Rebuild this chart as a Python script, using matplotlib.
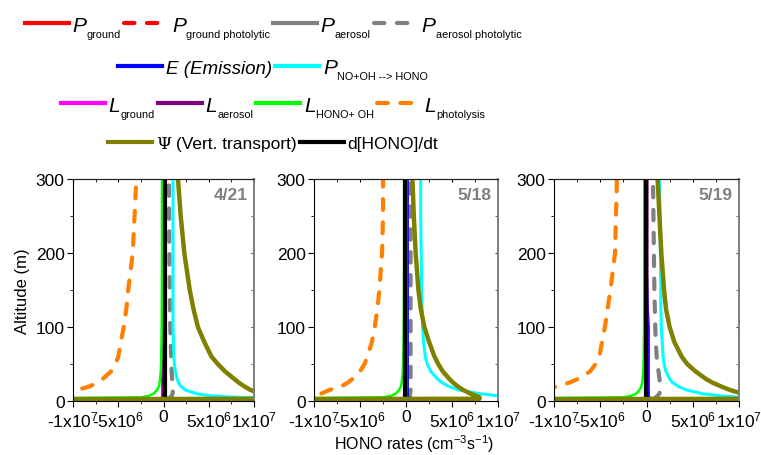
import numpy as np
import matplotlib.pyplot as plt
from matplotlib import font_manager
from matplotlib.lines import Line2D

plt.rcParams['font.family'] = 'Liberation Sans'
plt.rcParams['mathtext.fontset'] = 'custom'
plt.rcParams['mathtext.rm'] = 'Liberation Sans'
plt.rcParams['mathtext.it'] = 'Liberation Sans:italic'
plt.rcParams['axes.unicode_minus'] = False

# altitude levels (m) and HONO rates in units of 1e6 cm-3 s-1
nan = np.nan
alt = [2, 3, 5, 7, 10, 15, 20, 25, 30, 40, 50, 60, 80, 100, 125, 150, 200, 250, 300]

# 4/21
psi_421 = [-40, 15, 13, 11.8, 10.6, 9.6, 8.9, 8.3, 7.8, 6.8, 6.0, 5.3, 4.5, 3.8, 3.3, 2.9, 2.3, 1.9, 1.6]
pno_421 = [30, 20, 8, 5.2, 3.6, 2.4, 1.9, 1.65, 1.5, 1.3, 1.2, 1.15, 1.1, 1.05, 1.05, 1.05, 1.05, 1.05, 1.05]
paerph_421 = [0.4, 0.5, 0.8, 0.9, 1.0, 1.05, 1.0, 0.98, 0.95, 0.9, 0.87, 0.85, 0.8, 0.75, 0.72, 0.7, 0.65, 0.62, 0.6]
loh_421 = [-40, -20, -2.5, -1.6, -1.1, -0.7, -0.5, -0.43, -0.38, -0.3, -0.27, -0.25, -0.22, -0.2, -0.19, -0.18, -0.17, -0.17, -0.17]
lphot_421 = [nan, nan, nan, nan, -11.5, -9.5, -8.1, -7.3, -6.7, -5.8, -5.3, -5.0, -4.7, -4.4, -4.1, -3.9, -3.4, -3.2, -3.0]
e_421 = [2.5, 1.0, 0.15, 0.15, 0.15, 0.15, 0.15, 0.15, 0.15, 0.15, 0.15, 0.15, 0.1, 0.1, 0.1, 0.1, 0.1, 0.1, 0.1]
dhono_421 = [0.15, 0.15, 0.15, 0.15, 0.15, 0.15, 0.15, 0.15, 0.15, 0.15, 0.15, 0.15, 0.15, 0.15, 0.15, 0.15, 0.15, 0.15, 0.15]

# 5/18
psi_518 = [-40, 8.0, 8.0, 7.6, 7.0, 6.2, 5.6, 5.1, 4.7, 4.0, 3.5, 3.1, 2.5, 2.0, 1.6, 1.35, 1.05, 0.85, 0.7]
pno_518 = [30, 20, 12, 10, 8.0, 5.7, 4.6, 3.9, 3.4, 2.7, 2.3, 2.1, 1.9, 1.8, 1.75, 1.7, 1.65, 1.6, 1.6]
paerph_518 = [0.2, 0.25, 0.3, 0.4, 0.45, 0.5, 0.5, 0.5, 0.5, 0.5, 0.5, 0.5, 0.5, 0.5, 0.5, 0.5, 0.5, 0.5, 0.5]
loh_518 = [-40, -20, -2.5, -1.6, -1.1, -0.75, -0.55, -0.47, -0.42, -0.35, -0.32, -0.3, -0.27, -0.25, -0.23, -0.22, -0.2, -0.2, -0.2]
lphot_518 = [nan, nan, nan, nan, -9.2, -8.3, -7.0, -6.3, -5.8, -5.0, -4.5, -4.2, -3.7, -3.4, -3.1, -2.9, -2.6, -2.5, -2.5]
e_518 = [3.3, 1.2, 0.2, 0.2, 0.2, 0.2, 0.2, 0.2, 0.2, 0.2, 0.2, 0.2, 0.2, 0.2, 0.2, 0.2, 0.2, 0.2, 0.2]
dhono_518 = [-0.1, -0.1, -0.1, -0.1, -0.1, -0.1, -0.1, -0.1, -0.1, -0.1, -0.1, -0.1, -0.1, -0.1, -0.1, -0.1, -0.1, -0.1, -0.1]

# 5/19
psi_519 = [-40, 15, 13, 11.8, 10.3, 9.0, 8.0, 7.1, 6.4, 5.3, 4.4, 3.8, 3.0, 2.5, 2.1, 1.9, 1.6, 1.4, 1.2]
pno_519 = [30, 20, 10, 8, 6.0, 4.3, 3.4, 2.8, 2.5, 2.1, 1.9, 1.8, 1.7, 1.6, 1.55, 1.55, 1.5, 1.45, 1.4]
paerph_519 = [0.6, 0.8, 1.0, 1.2, 1.4, 1.5, 1.5, 1.45, 1.4, 1.3, 1.2, 1.1, 1.0, 0.95, 0.9, 0.85, 0.8, 0.75, 0.7]
loh_519 = [-40, -20, -2.5, -1.6, -1.1, -0.75, -0.55, -0.47, -0.42, -0.35, -0.32, -0.3, -0.28, -0.26, -0.25, -0.25, -0.25, -0.25, -0.25]
lphot_519 = [nan, nan, nan, nan, nan, -11, -9.6, -8.3, -7.4, -6.1, -5.5, -5.1, -4.8, -4.5, -4.2, -3.9, -3.4, -3.3, -3.2]
e_519 = [2.5, 1.0, 0.25, 0.25, 0.25, 0.25, 0.25, 0.25, 0.25, 0.25, 0.25, 0.25, 0.25, 0.25, 0.15, 0.1, 0.0, 0.0, 0.0]
dhono_519 = [-0.1, -0.1, -0.1, -0.1, -0.1, -0.1, -0.1, -0.1, -0.1, -0.1, -0.1, -0.1, -0.1, -0.1, -0.1, -0.1, -0.1, -0.1, -0.1]

# small terms, hidden near zero on every day
pground = [0.4, 0.2, 0.05, 0.03, 0.02, 0.01, 0, 0, 0, 0, 0, 0, 0, 0, 0, 0, 0, 0, 0]
pgroundph = [0.3, 0.15, 0.04, 0.03, 0.02, 0.01, 0, 0, 0, 0, 0, 0, 0, 0, 0, 0, 0, 0, 0]
paer = [0.1, 0.09, 0.08, 0.07, 0.06, 0.05, 0.05, 0.05, 0.05, 0.05, 0.05, 0.05, 0.05, 0.05, 0.05, 0.05, 0.05, 0.05, 0.05]
lground = [-0.4, -0.2, -0.05, -0.03, -0.02, -0.01, 0, 0, 0, 0, 0, 0, 0, 0, 0, 0, 0, 0, 0]
laer = [-0.1, -0.09, -0.08, -0.07, -0.06, -0.05, -0.05, -0.05, -0.05, -0.05, -0.05, -0.05, -0.05, -0.05, -0.05, -0.05, -0.05, -0.05, -0.05]

dates = ['4/21', '5/18', '5/19']
xticks = [-1e7, -5e6, 0, 5e6, 1e7]
xlabels = ['-1x10$^{7}$', '-5x10$^{6}$', '0', '5x10$^{6}$', '1x10$^{7}$']

styles = {
    'pground': dict(color='#ff0000', lw=2.5),
    'pgroundph': dict(color='#ff0000', lw=2.5, ls=(0, (2.5, 3))),
    'paer': dict(color='#808080', lw=2.5),
    'paerph': dict(color='#808080', lw=3, ls=(0, (2.5, 3))),
    'e': dict(color='#0000ff', lw=1.5),
    'pno': dict(color='#00ffff', lw=2.2),
    'lground': dict(color='#ff00ff', lw=2.5),
    'laer': dict(color='#800080', lw=2.5),
    'loh': dict(color='#00ff00', lw=1.8),
    'lphot': dict(color='#ff8000', lw=3, ls=(0, (2.6, 3))),
    'dhono': dict(color='#000000', lw=3),
    'psi': dict(color='#808000', lw=3.2),
}

data = {
    '4/21': dict(psi=psi_421, pno=pno_421, paerph=paerph_421, loh=loh_421, lphot=lphot_421, e=e_421, dhono=dhono_421),
    '5/18': dict(psi=psi_518, pno=pno_518, paerph=paerph_518, loh=loh_518, lphot=lphot_518, e=e_518, dhono=dhono_518),
    '5/19': dict(psi=psi_519, pno=pno_519, paerph=paerph_519, loh=loh_519, lphot=lphot_519, e=e_519, dhono=dhono_519),
}
order = ['pground', 'pgroundph', 'paer', 'paerph', 'e', 'pno', 'lground', 'laer', 'loh', 'lphot', 'dhono', 'psi']

W, H = 761, 456
fig = plt.figure(figsize=(W / 100, H / 100), dpi=100)

panels = [(73, 181), (314, 184), (554, 185)]
for i, (d, (left, width)) in enumerate(zip(dates, panels)):
    ax = fig.add_axes([left / W, 1 - 402 / H, width / W, 222 / H])
    series = dict(data[d], pground=pground, pgroundph=pgroundph, paer=paer, lground=lground, laer=laer)
    for k in order:
        ax.plot(np.array(series[k]) * 1e6, alt, dash_capstyle='round', solid_capstyle='butt', **styles[k])
    ax.set_xlim(-1e7, 1e7)
    ax.set_ylim(0, 300)
    ax.set_xticks(xticks)
    ax.set_xticklabels(xlabels)
    ax.set_xticks([-7.5e6, -2.5e6, 2.5e6, 7.5e6], minor=True)
    ax.set_yticks([0, 100, 200, 300])
    ax.set_yticks([50, 150, 250], minor=True)
    ax.tick_params(which='major', direction='out', length=4, labelsize=12.5, pad=2)
    ax.tick_params(which='minor', direction='out', length=2.5)
    ax.spines['right'].set_color('#808080')
    ax.spines['right'].set_linewidth(1.3)
    ax.spines['top'].set_color('#222222')
    sx = ax.secondary_xaxis('top')
    sx.set_xticks(xticks)
    sx.set_xticks([-7.5e6, -2.5e6, 2.5e6, 7.5e6], minor=True)
    sx.tick_params(which='both', direction='in', length=2, labeltop=False)
    sx.spines['top'].set_color('#222222')
    sy = ax.secondary_yaxis('right')
    sy.set_yticks([0, 100, 200, 300])
    sy.set_yticks([50, 150, 250], minor=True)
    sy.tick_params(which='both', direction='in', length=2, labelright=False, color='#444444')
    sy.spines['right'].set_color('#808080')
    sy.spines['right'].set_linewidth(1.3)
    ax.text(0.965, 0.965, d, transform=ax.transAxes, ha='right', va='top',
            fontsize=12.5, fontweight='bold', color='#808080')
    if i == 0:
        ax.set_ylabel('Altitude (m)', fontsize=12)
        ax.yaxis.set_label_coords(-0.24, 0.5)

fig.text(414 / W, 1 - 444 / H, 'HONO rates (cm$^{-3}$s$^{-1}$)', ha='center', va='center', fontsize=11.5)

# legend drawn as rows of handles and labels
try:
    font_manager.findfont('Liberation Sans Narrow', fallback_to_default=False)
    narrow = 'Liberation Sans Narrow'
except ValueError:
    narrow = 'Liberation Sans'

big, small, mid = 15, 7.8, 12.5


def sym(main, sub):
    return [(main, big, 'italic', 0, narrow), (sub, small, 'normal', 6.5, narrow)]


rows = [
    (31.5, [('pground', sym('P', 'ground')), ('pgroundph', sym('P', 'ground photolytic')),
            ('paer', sym('P', 'aerosol')), ('paerph', sym('P', 'aerosol photolytic'))]),
    (74, [('e', [('E (Emission)', 13.5, 'italic', 0, narrow)]), ('pno', sym('P', 'NO+OH --> HONO'))]),
    (111.5, [('lground', sym('L', 'ground')), ('laer', sym('L', 'aerosol')),
             ('loh', sym('L', 'HONO+ OH')), ('lphot', sym('L', 'photolysis'))]),
    (149, [('psi', [('\u03a8', mid, 'normal', 0, 'DejaVu Serif'), (' (Vert. transport)', mid, 'normal', 0, narrow)]),
           ('dhono', [('d[HONO]/dt', mid, 'normal', 0, narrow)])]),
]

renderer = fig.canvas.get_renderer()
hlen, gap, after = 44, 4, 3
for ybase, items in rows:
    placed = []
    x = 0
    for key, parts in items:
        placed.append(('h', key, x))
        x += hlen + gap
        for txt, size, style, dy, fam in parts:
            t = fig.text(0, 0, txt, fontsize=size, style=style, family=fam, va='baseline', ha='left')
            w = t.get_window_extent(renderer).width
            placed.append(('t', t, x, dy))
            x += w
        x += after
    total = x - after
    shift = 273 - total / 2
    cap = (mid if items[0][0] == 'psi' else big) * 0.72 * 100 / 72 / 2
    for p in placed:
        if p[0] == 'h':
            st = dict(styles[p[1]])
            st['lw'] = 3
            yh = 1 - (ybase - cap) / H
            fig.add_artist(Line2D([(p[2] + shift) / W, (p[2] + shift + hlen) / W], [yh, yh],
                                  dash_capstyle='round', **st))
        else:
            p[1].set_position(((p[2] + shift) / W, 1 - (ybase + p[3]) / H))

fig.savefig('out.png', dpi=100)
